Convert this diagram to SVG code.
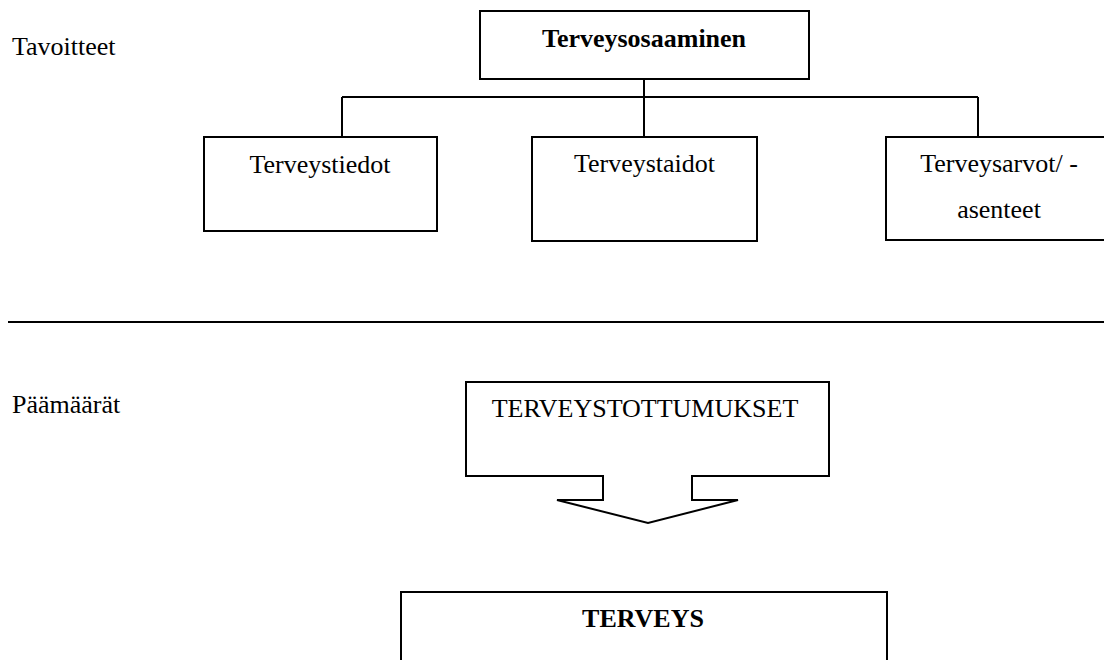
<svg xmlns="http://www.w3.org/2000/svg" width="1104" height="660" viewBox="0 0 1104 660">
<style>
.box{fill:#fff;stroke:#000;stroke-width:2}
.ln{fill:none;stroke:#000;stroke-width:2}
text{font-family:"Liberation Serif","Times New Roman",serif;font-size:26px;fill:#000}
.c{text-anchor:middle}
.b{font-weight:bold}
</style>
<rect width="1104" height="660" fill="#fff"/>
<text id="label-tavoitteet" x="12" y="55">Tavoitteet</text>
<text id="label-paamaarat" x="12" y="413">Päämäärät</text>
<g id="connectors">
<path class="ln" d="M644,79 V137 M342,97 H978 M342,97 V137 M978,97 V137"/>
<path class="ln" d="M8,322 H1104"/>
</g>
<g id="node-terveysosaaminen">
<rect class="box" x="480" y="11" width="329" height="68"/>
<text class="c b" x="644" y="47">Terveysosaaminen</text>
</g>
<g id="node-terveystiedot">
<rect class="box" x="204" y="137" width="233" height="94"/>
<text class="c" x="320" y="173">Terveystiedot</text>
</g>
<g id="node-terveystaidot">
<rect class="box" x="532" y="137" width="225" height="104"/>
<text class="c" x="644.5" y="172">Terveystaidot</text>
</g>
<g id="node-terveysarvot">
<rect class="box" x="886" y="137" width="226" height="103"/>
<text class="c" x="999" y="172">Terveysarvot/ -</text>
<text class="c" x="999" y="218">asenteet</text>
</g>
<g id="node-terveystottumukset">
<path class="box" d="M466,382 H829 V476 H692 V500 H738 L648,523 L557,500 H603 V476 H466 Z"/>
<text class="c" x="645" y="417">TERVEYSTOTTUMUKSET</text>
</g>
<g id="node-terveys">
<rect class="box" x="401" y="592" width="486" height="90"/>
<text class="c b" x="643" y="627">TERVEYS</text>
</g>
</svg>
